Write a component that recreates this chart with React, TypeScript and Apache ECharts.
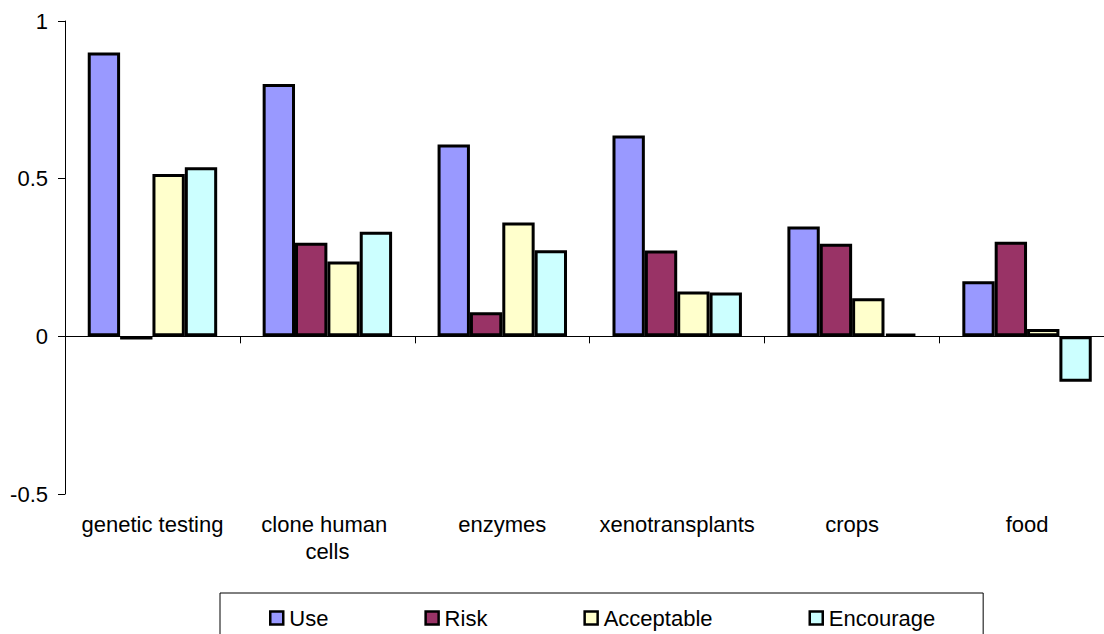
import React, { useEffect, useRef } from "react";
import * as echarts from "echarts";

const categories = ["genetic testing", "clone human cells", "enzymes", "xenotransplants", "crops", "food"];
const seriesNames = ["Use", "Risk", "Acceptable", "Encourage"];
const useValues = [0.9, 0.8, 0.608, 0.637, 0.348, 0.175];
const riskValues = [-0.01, 0.297, 0.076, 0.272, 0.294, 0.3];
const acceptableValues = [0.515, 0.237, 0.361, 0.142, 0.121, 0.023];
const encourageValues = [0.536, 0.332, 0.273, 0.139, 0.009, -0.144];
const colors = ["#9999FF", "#993366", "#FFFFCC", "#CCFFFF"];
const yTicks = [-0.5, 0, 0.5, 1];

const FONT = "Arial, 'Liberation Sans', sans-serif";

export default function App() {
  const ref = useRef<HTMLDivElement>(null);
  useEffect(() => {
    if (!ref.current) return;
    const chart = echarts.init(ref.current, undefined, { renderer: "svg" });
    const values = [useValues, riskValues, acceptableValues, encourageValues];
    chart.setOption({
      animation: false,
      backgroundColor: "#FFFFFF",
      textStyle: { fontFamily: FONT },
      grid: { left: 65, top: 21, bottom: 140, right: 0, containLabel: false },
      legend: {
        left: 220,
        top: 593,
        padding: [14, 48, 14, 49],
        borderColor: "#000",
        borderWidth: 1,
        itemGap: 96,
        itemWidth: 13,
        itemHeight: 13,
        icon: "rect",
        itemStyle: { borderColor: "#000", borderWidth: 2.5 },
        textStyle: { fontSize: 22, color: "#000", fontFamily: FONT, padding: [0, 0, 0, 1] },
        data: seriesNames,
      },
      xAxis: [
        {
          type: "category",
          data: categories,
          axisLine: { onZero: true, lineStyle: { color: "#000", width: 1 } },
          axisTick: { show: true, length: 7, lineStyle: { color: "#000" } },
          axisLabel: { show: false },
          splitLine: { show: false },
        },
        {
          type: "category",
          data: categories,
          position: "bottom",
          axisLine: { show: false, onZero: false },
          axisTick: { show: false },
          axisLabel: {
            show: true,
            interval: 0,
            fontSize: 22,
            color: "#000",
            fontFamily: FONT,
            margin: 17,
            lineHeight: 27,
            width: 170,
            overflow: "break",
          },
          splitLine: { show: false },
        },
      ],
      yAxis: {
        type: "value",
        min: yTicks[0],
        max: yTicks[yTicks.length - 1],
        interval: 0.5,
        axisLine: { show: true, lineStyle: { color: "#000", width: 1 } },
        axisTick: { show: true, length: 7, lineStyle: { color: "#000" } },
        axisLabel: { fontSize: 22, color: "#000", fontFamily: FONT, margin: 17 },
        splitLine: { show: false },
      },
      series: seriesNames.map((name, i) => ({
        name,
        type: "bar",
        xAxisIndex: 0,
        data: values[i],
        barGap: "0%",
        barCategoryGap: "26%",
        itemStyle: { color: colors[i], borderColor: "#000", borderWidth: 3 },
        emphasis: { disabled: true },
      })),
    });
    return () => chart.dispose();
  }, []);
  return (
    <div
      style={{ position: "absolute", left: 0, top: 0, width: 1104, height: 634, overflow: "hidden", background: "#fff" }}
    >
      <div ref={ref} style={{ width: 1115, height: 634 }} />
    </div>
  );
}
